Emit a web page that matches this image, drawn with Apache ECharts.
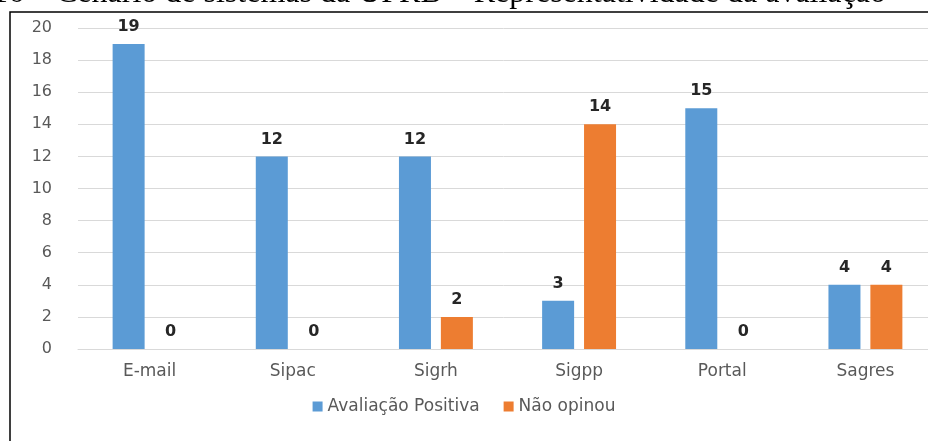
<!DOCTYPE html>
<html>
<head>
<meta charset="utf-8">
<script src="https://cdn.jsdelivr.net/npm/echarts@6/dist/echarts.min.js"></script>
<style>
  html, body { margin: 0; padding: 0; background: #fff; }
  #chart { width: 928px; height: 441px; }
</style>
</head>
<body>
<div id="chart"></div>
<script>
const categories = ['E-mail', 'Sipac', 'Sigrh', 'Sigpp', 'Portal', 'Sagres']
const positiva = [19, 12, 12, 3, 15, 4]
const naoOpinou = [0, 0, 2, 14, 0, 4]
const seriesNames = ['Avaliação Positiva', 'Não opinou']
const titleText = '16 – Cenário de sistemas da UFRB – Representatividade da avaliação'

const chart = echarts.init(document.getElementById('chart'))

// rótulos em cima das barras
const barLabel = {
  show: true,
  position: 'top',
  distance: 9,
  color: '#262626',
  fontFamily: 'DejaVu Sans',
  fontSize: 16,
  fontWeight: 'bold'
}

const option = {
  animation: false,
  backgroundColor: '#fff',
  graphic: [
    {
      type: 'text',
      left: -8,
      top: -22,
      style: {
        text: titleText,
        font: '32px "Liberation Serif"',
        fill: '#000'
      }
    },
    {
      type: 'rect',
      shape: { x: 10, y: 12, width: 950, height: 460 },
      style: { fill: 'none', stroke: '#000', lineWidth: 1.5 },
      z: 10
    }
  ],
  grid: {
    left: 78,
    right: -9,
    top: 28,
    bottom: 92,
    outerBoundsMode: 'none'
  },
  legend: {
    data: seriesNames,
    bottom: 21,
    left: 'center',
    itemWidth: 10,
    itemHeight: 10,
    itemGap: 24,
    icon: 'rect',
    textStyle: {
      color: '#595959',
      fontFamily: 'DejaVu Sans',
      fontSize: 17
    }
  },
  xAxis: {
    type: 'category',
    data: categories,
    axisLine: { lineStyle: { color: '#d9d9d9' } },
    axisTick: { show: false },
    axisLabel: {
      color: '#595959',
      fontFamily: 'DejaVu Sans',
      fontSize: 17,
      margin: 14
    }
  },
  yAxis: {
    type: 'value',
    min: 0,
    max: 20,
    interval: 2,
    axisLine: { show: false },
    axisTick: { show: false },
    splitLine: { lineStyle: { color: '#d9d9d9' } },
    axisLabel: {
      color: '#595959',
      fontFamily: 'DejaVu Sans',
      fontSize: 16,
      margin: 26
    }
  },
  series: [
    {
      name: seriesNames[0],
      type: 'bar',
      data: positiva,
      barWidth: 32,
      barGap: '31%',
      itemStyle: { color: '#5b9bd5' },
      label: barLabel
    },
    {
      name: seriesNames[1],
      type: 'bar',
      data: naoOpinou,
      barWidth: 32,
      itemStyle: { color: '#ed7d31' },
      label: barLabel
    }
  ]
}

chart.setOption(option)
</script>
</body>
</html>
